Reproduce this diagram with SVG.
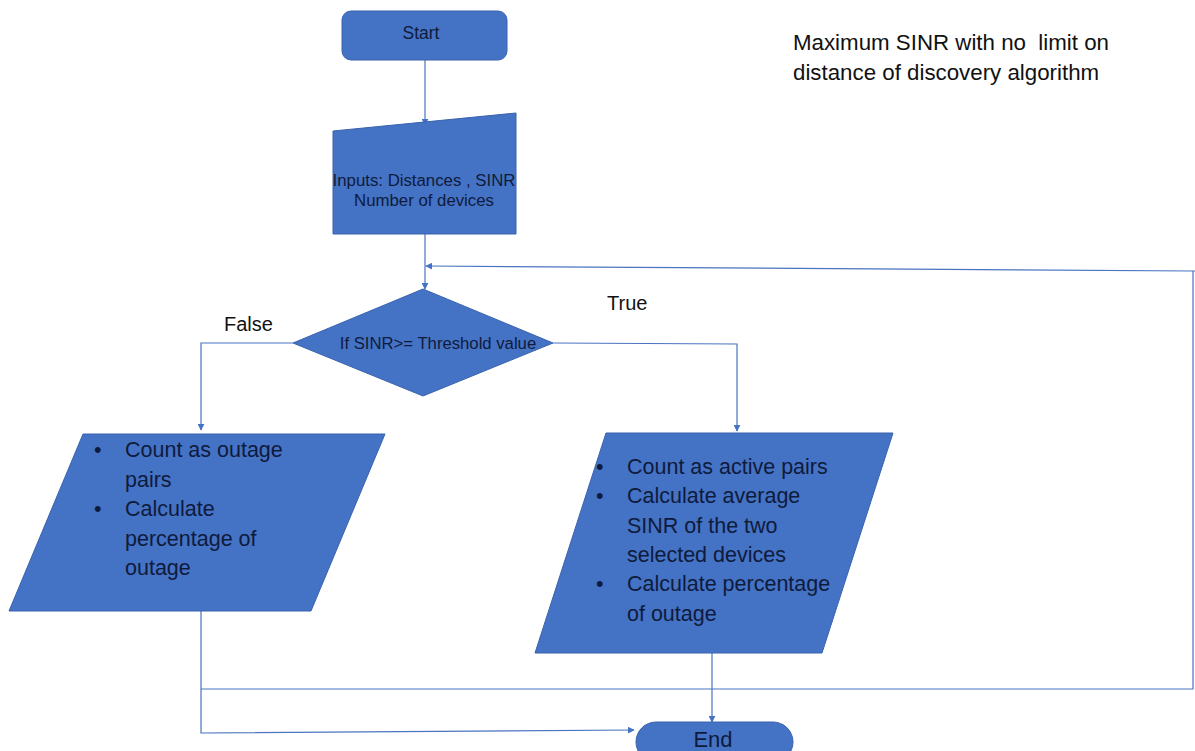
<svg xmlns="http://www.w3.org/2000/svg" width="1195" height="751" viewBox="0 0 1195 751">
<defs>
<marker id="arr" viewBox="0 0 10 10" refX="9" refY="5" markerWidth="7" markerHeight="7" orient="auto" markerUnits="userSpaceOnUse">
<path d="M0,0 L10,5 L0,10 z" fill="#4472C4"/>
</marker>
<style>
.shape{fill:#4472C4;stroke:#3A63AE;stroke-width:1}
.conn{fill:none;stroke:#4A74C0;stroke-width:1.2}
.t{font-family:"Liberation Sans",Arial,sans-serif;fill:#0F1B3C}
.lbl{font-family:"Liberation Sans",Arial,sans-serif;fill:#111}
</style>
</defs>
<rect width="1195" height="751" fill="#ffffff"/>
<g id="connectors">
<line class="conn" x1="425" y1="60" x2="425" y2="125" marker-end="url(#arr)"/>
<line class="conn" x1="425" y1="234" x2="425" y2="289" marker-end="url(#arr)"/>
<polyline class="conn" points="1195,271 1193,271 426,266" marker-end="url(#arr)"/>
<polyline class="conn" points="293,343 201,343 201,430" marker-end="url(#arr)"/>
<polyline class="conn" points="553,343 737,344 737,431" marker-end="url(#arr)"/>
<line class="conn" x1="712" y1="653" x2="712" y2="722" marker-end="url(#arr)"/>
<polyline class="conn" points="201,611 201,733 634,730" marker-end="url(#arr)"/>
<polyline class="conn" points="201,689 1193,689 1193,271"/>
</g>
<g id="start">
<rect class="shape" x="342" y="11" width="165" height="49" rx="9"/>
<text class="t" x="421" y="39" font-size="17.5" text-anchor="middle">Start</text>
</g>
<g id="inputs">
<polygon class="shape" points="333,131 516,113 516,234 333,234"/>
<text class="t" x="424" y="186" font-size="16.8" text-anchor="middle">Inputs: Distances , SINR</text>
<text class="t" x="424" y="206" font-size="16.8" text-anchor="middle">Number of devices</text>
</g>
<g id="decision">
<polygon class="shape" points="423,289 553,343 423,396 293,343"/>
<text class="t" x="438" y="349" font-size="16.7" text-anchor="middle">If SINR&gt;= Threshold value</text>
</g>
<g id="outage">
<polygon class="shape" points="83,434 385,434 311,611 9,611"/>
<g class="t" font-size="21.5">
<text x="94" y="457">•</text>
<text x="125" y="457">Count as outage</text>
<text x="125" y="487">pairs</text>
<text x="94" y="516">•</text>
<text x="125" y="516">Calculate</text>
<text x="125" y="546">percentage of</text>
<text x="125" y="575">outage</text>
</g>
</g>
<g id="active">
<polygon class="shape" points="606,433 893,433 822,653 535,653"/>
<g class="t" font-size="21.5">
<text x="596" y="474">•</text>
<text x="627" y="474">Count as active pairs</text>
<text x="596" y="503">•</text>
<text x="627" y="503">Calculate average</text>
<text x="627" y="533">SINR of the two</text>
<text x="627" y="562">selected devices</text>
<text x="596" y="591">•</text>
<text x="627" y="591">Calculate percentage</text>
<text x="627" y="621">of outage</text>
</g>
</g>
<g id="end">
<rect class="shape" x="636" y="722" width="157" height="40" rx="20"/>
<text class="t" x="713" y="747" font-size="22" text-anchor="middle">End</text>
</g>
<g id="labels">
<text class="lbl" x="224" y="331" font-size="20">False</text>
<text class="lbl" x="607" y="310" font-size="20">True</text>
<text class="lbl" x="793" y="50" font-size="22.3" xml:space="preserve" style="white-space:pre">Maximum SINR with no  limit on</text>
<text class="lbl" x="793" y="80" font-size="22.3">distance of discovery algorithm</text>
</g>
</svg>
